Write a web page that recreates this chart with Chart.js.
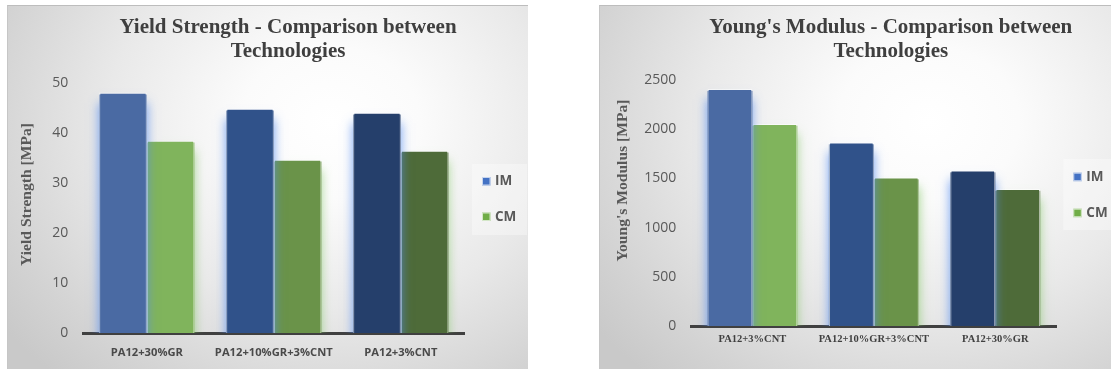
<!DOCTYPE html>
<html>
<head>
<meta charset="utf-8">
<script src="https://cdn.jsdelivr.net/npm/chart.js@4.4.1/dist/chart.umd.min.js"></script>
<style>
  html, body { margin: 0; padding: 0; width: 1111px; height: 371px; overflow: hidden; background: #ffffff; }
  .panel {
    position: absolute; top: 5px; height: 364px; box-sizing: border-box;
    border-top: 1px solid #bdbdbd; border-left: 1px solid #c6c6c6;
    background: radial-gradient(ellipse 78% 95% at 62% 32%, #ffffff 0%, #fbfbfb 22%, #e9e9e9 55%, #d3d3d3 85%, #c9c9c9 100%);
  }
  #panelYield { left: 7px; width: 521px; }
  #panelModulus { left: 599px; width: 530px; }
  canvas { position: absolute; top: 5px; }
  #yieldChart { left: 7px; }
  #modulusChart { left: 599px; }
</style>
</head>
<body>
<div class="panel" id="panelYield"></div>
<div class="panel" id="panelModulus"></div>
<canvas id="yieldChart" width="521" height="364"></canvas>
<canvas id="modulusChart" width="530" height="364"></canvas>
<script>
// ---- data ----
const seriesNames = ['IM', 'CM'];

const yieldCategories = ['PA12+30%GR', 'PA12+10%GR+3%CNT', 'PA12+3%CNT'];
const yieldIM = [48.1, 44.9, 44.1];
const yieldCM = [38.5, 34.7, 36.5];
const yieldAxis = { min: 0, max: 50, step: 10 };

const modulusCategories = ['PA12+3%CNT', 'PA12+10%GR+3%CNT', 'PA12+30%GR'];
const modulusIM = [2410, 1867, 1582];
const modulusCM = [2056, 1511, 1395];
const modulusAxis = { min: 0, max: 2500, step: 500 };

// ---- colours: one shade per bar position, plus the legend swatch colour ----
const imShades = ['#4a6aa3', '#30528a', '#253f6b'];
const cmShades = ['#80b45c', '#6a9349', '#4e6b39'];
const imSwatch = '#4472c4';
const cmSwatch = '#70ad47';

// Soft glow behind the bars, chart title, rotated axis title and boxed legend.
const decor = {
  id: 'decor',
  beforeDatasetDraw(chart, args) {
    const ctx = chart.ctx;
    const area = chart.chartArea;
    const meta = chart.getDatasetMeta(args.index);
    ctx.save();
    ctx.beginPath();
    ctx.rect(area.left - 12, area.top - 10, area.right - area.left + 24, area.bottom - area.top + 10);
    ctx.clip();
    ctx.shadowColor = args.index === 0 ? 'rgba(85,140,240,0.8)' : 'rgba(130,200,100,0.75)';
    ctx.shadowBlur = 10;
    ctx.shadowOffsetY = 8;
    meta.data.forEach((bar, i) => {
      const p = bar.getProps(['x', 'y', 'base', 'width'], true);
      ctx.fillStyle = meta.controller.getDataset().backgroundColor[i];
      ctx.fillRect(p.x - p.width / 2, p.y + 2, p.width, p.base - p.y - 2);
    });
    ctx.restore();
  },
  afterDraw(chart, args, o) {
    const ctx = chart.ctx;
    ctx.save();
    ctx.textAlign = 'center';
    ctx.textBaseline = 'middle';

    // chart title
    ctx.fillStyle = '#3f3f3f';
    ctx.font = 'bold 21px "Liberation Serif"';
    o.title.forEach((line, i) => ctx.fillText(line, o.titleX, o.titleY + i * 24));

    // value axis title
    ctx.save();
    ctx.translate(o.axisTitleX, o.axisTitleY);
    ctx.rotate(-Math.PI / 2);
    ctx.fillStyle = '#595959';
    ctx.font = 'bold 15.6px "Liberation Serif"';
    ctx.fillText(o.axisTitle, 0, 0);
    ctx.restore();

    // legend
    const lb = o.legend;
    ctx.fillStyle = 'rgba(255,255,255,0.35)';
    ctx.fillRect(lb.x, lb.y, lb.w, lb.h);
    ctx.textAlign = 'left';
    ctx.font = 'bold 13.5px "Open Sans"';
    chart.data.datasets.forEach((ds, i) => {
      const cy = lb.y + lb.firstRow + i * lb.rowGap;
      ctx.fillStyle = ds.swatch;
      ctx.fillRect(lb.x + 10, cy - 4, 8.5, 8.5);
      ctx.strokeStyle = 'rgba(255,255,255,0.7)';
      ctx.lineWidth = 1;
      ctx.strokeRect(lb.x + 10.5, cy - 3.5, 7.5, 7.5);
      ctx.fillStyle = '#595959';
      ctx.fillText(ds.label, lb.x + 23, cy + 0.5);
    });
    ctx.restore();
  }
};

function buildChart(canvasId, categories, imValues, cmValues, axis, cfg) {
  return new Chart(document.getElementById(canvasId), {
    type: 'bar',
    data: {
      labels: categories,
      datasets: [
        { label: seriesNames[0], data: imValues, backgroundColor: imShades, swatch: imSwatch,
          borderColor: 'rgba(255,255,255,0.55)', borderWidth: 1.2 },
        { label: seriesNames[1], data: cmValues, backgroundColor: cmShades, swatch: cmSwatch,
          borderColor: 'rgba(255,255,255,0.55)', borderWidth: 1.2 }
      ]
    },
    options: {
      responsive: false,
      animation: false,
      devicePixelRatio: 1,
      layout: { padding: { top: cfg.padTop, right: cfg.padRight, bottom: 0, left: 0 } },
      datasets: { bar: { barPercentage: 1, categoryPercentage: cfg.catPct } },
      plugins: {
        legend: { display: false },
        title: { display: false },
        tooltip: { enabled: false },
        decor: cfg.decor
      },
      scales: {
        x: {
          grid: { display: false, drawTicks: false },
          border: { display: true, color: '#404040', width: 3 },
          ticks: { padding: cfg.xPad, color: cfg.xColor, font: cfg.xFont },
          afterFit(s) { s.height = cfg.xHeight; }
        },
        y: {
          min: axis.min, max: axis.max,
          grid: { display: false, drawTicks: false },
          border: { display: false },
          ticks: { stepSize: axis.step, padding: cfg.yPad, color: '#595959',
                   font: { family: 'Open Sans', size: 14 },
                   callback: (v) => String(v) },
          afterFit(s) { s.width = cfg.yWidth; }
        }
      }
    },
    plugins: [decor]
  });
}

buildChart('yieldChart', yieldCategories, yieldIM, yieldCM, yieldAxis, {
  padTop: 78, padRight: 63.7, catPct: 0.75,
  xHeight: 36, xPad: 13, xColor: '#4a4a4a',
  xFont: { family: 'Open Sans', weight: 'bold', size: 11.2 },
  yWidth: 76.3, yPad: 15,
  decor: {
    title: ['Yield Strength - Comparison between', 'Technologies'],
    titleX: 281, titleY: 23,
    axisTitle: 'Yield Strength [MPa]', axisTitleX: 20, axisTitleY: 189.5,
    legend: { x: 465, y: 159, w: 55, h: 71, firstRow: 17, rowGap: 35.5 }
  }
});

buildChart('modulusChart', modulusCategories, modulusIM, modulusCM, modulusAxis, {
  padTop: 75, padRight: 73, catPct: 0.74,
  xHeight: 43, xPad: 7, xColor: '#404040',
  xFont: { family: 'Liberation Serif', weight: 'bold', size: 10.5 },
  yWidth: 92.7, yPad: 15.5,
  decor: {
    title: ["Young's Modulus - Comparison between", 'Technologies'],
    titleX: 291.8, titleY: 23,
    axisTitle: "Young's Modulus [MPa]", axisTitleX: 24, axisTitleY: 175.5,
    legend: { x: 464.3, y: 154, w: 56, h: 71, firstRow: 17.7, rowGap: 36 }
  }
});
</script>
</body>
</html>
